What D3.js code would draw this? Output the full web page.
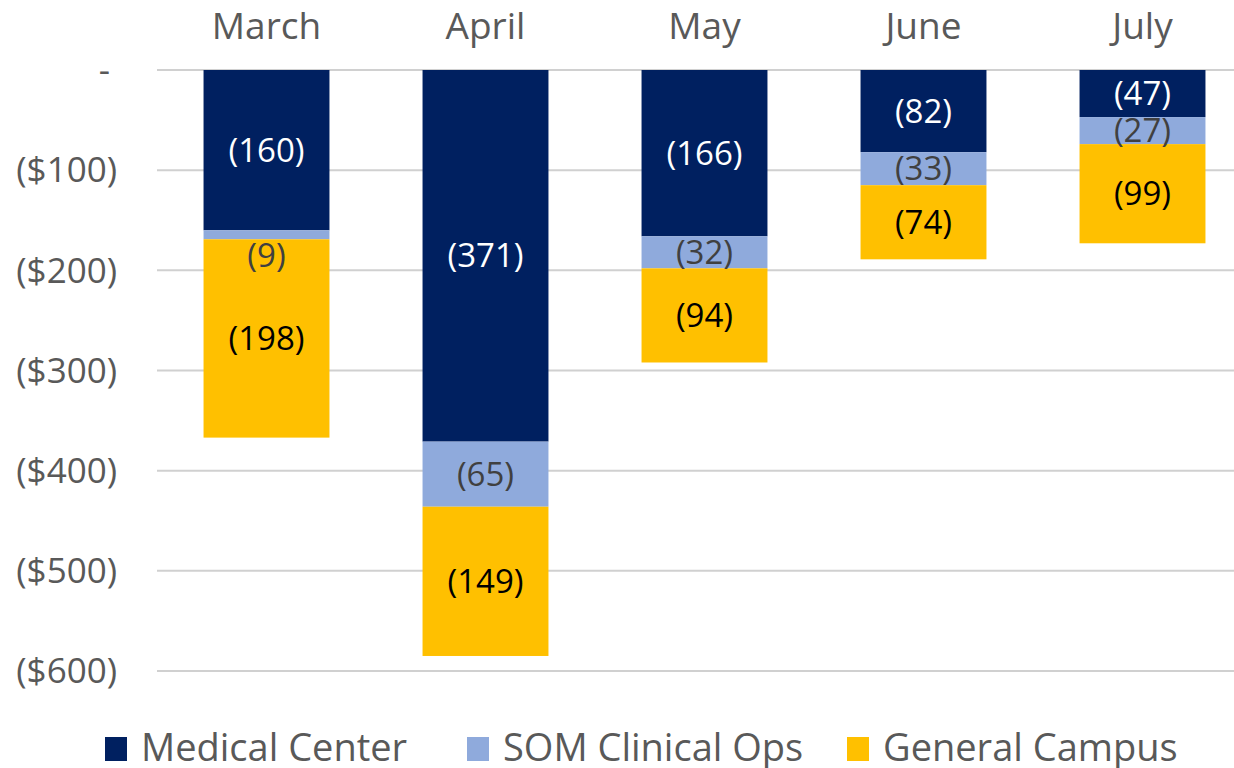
<!DOCTYPE html>
<html>
<head>
<meta charset="utf-8">
<script src="https://cdn.jsdelivr.net/npm/d3@7"></script>
<style>
  body { margin: 0; background: #fff; }
  text { font-family: "Open Sans", sans-serif; }
</style>
</head>
<body>
<div id="chart"></div>
<script>
// data (values in $, shown negative)
const months = ["March", "April", "May", "June", "July"];
const seriesNames = ["Medical Center", "SOM Clinical Ops", "General Campus"];
const medicalCenter = [160, 371, 166, 82, 47];
const somClinicalOps = [9, 65, 32, 33, 27];
const generalCampus = [198, 149, 94, 74, 99];
const yTicks = [0, -100, -200, -300, -400, -500, -600];

const colors = ["#002060", "#8FAADC", "#FFC000"];
const labelColors = ["#ffffff", "#404040", "#000000"];

const width = 1234, height = 768;
const margin = { top: 70, right: 0, bottom: 97, left: 157 };

const svg = d3.select("#chart").append("svg")
  .attr("width", width)
  .attr("height", height);

const x = d3.scaleBand()
  .domain(months)
  .range([margin.left, 1252])
  .paddingInner(0.425)
  .paddingOuter(0.2125);

const y = d3.scaleLinear()
  .domain([0, -600])
  .range([margin.top, height - margin.bottom]);

// gridlines
svg.append("g")
  .selectAll("line")
  .data(yTicks)
  .join("line")
    .attr("x1", margin.left)
    .attr("x2", width)
    .attr("y1", d => y(d))
    .attr("y2", d => y(d))
    .attr("stroke", "#d0d0d0")
    .attr("stroke-width", 2);

// y labels
const fmt = d => d === 0 ? "-" : "($" + Math.abs(d) + ")";
svg.append("g")
  .selectAll("text")
  .data(yTicks)
  .join("text")
    .attr("x", d => d === 0 ? 110 : 117)
    .attr("y", d => y(d))
    .attr("dy", "0.35em")
    .attr("text-anchor", "end")
    .attr("fill", "#595959")
    .style("font-size", "35px")
    .text(fmt);

// month labels on top
svg.append("g")
  .selectAll("text")
  .data(months)
  .join("text")
    .attr("x", d => x(d) + x.bandwidth() / 2)
    .attr("y", 39)
    .attr("text-anchor", "middle")
    .attr("fill", "#595959")
    .style("font-size", "37px")
    .text(d => d);

// stack
const rows = months.map((m, i) => ({
  month: m,
  s0: medicalCenter[i],
  s1: somClinicalOps[i],
  s2: generalCampus[i]
}));
const stack = d3.stack().keys(["s0", "s1", "s2"]);
const layers = stack(rows);

const layerG = svg.append("g")
  .selectAll("g")
  .data(layers)
  .join("g")
    .attr("fill", (d, i) => colors[i]);

layerG.selectAll("rect")
  .data(d => d)
  .join("rect")
    .attr("x", d => x(d.data.month))
    .attr("width", x.bandwidth())
    .attr("y", d => y(-d[0]))
    .attr("height", d => y(-d[1]) - y(-d[0]));

// value labels (a very thin segment gets its label pushed just below it)
layers.forEach((layer, li) => {
  svg.append("g")
    .selectAll("text")
    .data(layer)
    .join("text")
      .attr("x", d => x(d.data.month) + x.bandwidth() / 2)
      .attr("y", d => {
        const h = y(-d[1]) - y(-d[0]);
        return h < 20 ? y(-d[0]) + 25 : y(-(d[0] + d[1]) / 2);
      })
      .attr("dy", "0.35em")
      .attr("text-anchor", "middle")
      .attr("fill", labelColors[li])
      .style("font-size", "33px")
      .text(d => "(" + (d[1] - d[0]) + ")");
});

// legend
const legendX = [105, 467, 847];
const legend = svg.append("g")
  .selectAll("g")
  .data(seriesNames)
  .join("g")
    .attr("transform", (d, i) => `translate(${legendX[i]},737)`);
legend.append("rect")
  .attr("width", 22)
  .attr("height", 24)
  .attr("fill", (d, i) => colors[i]);
legend.append("text")
  .attr("x", 36)
  .attr("y", 24)
  .attr("fill", "#595959")
  .style("font-size", "38px")
  .text(d => d);
</script>
</body>
</html>
